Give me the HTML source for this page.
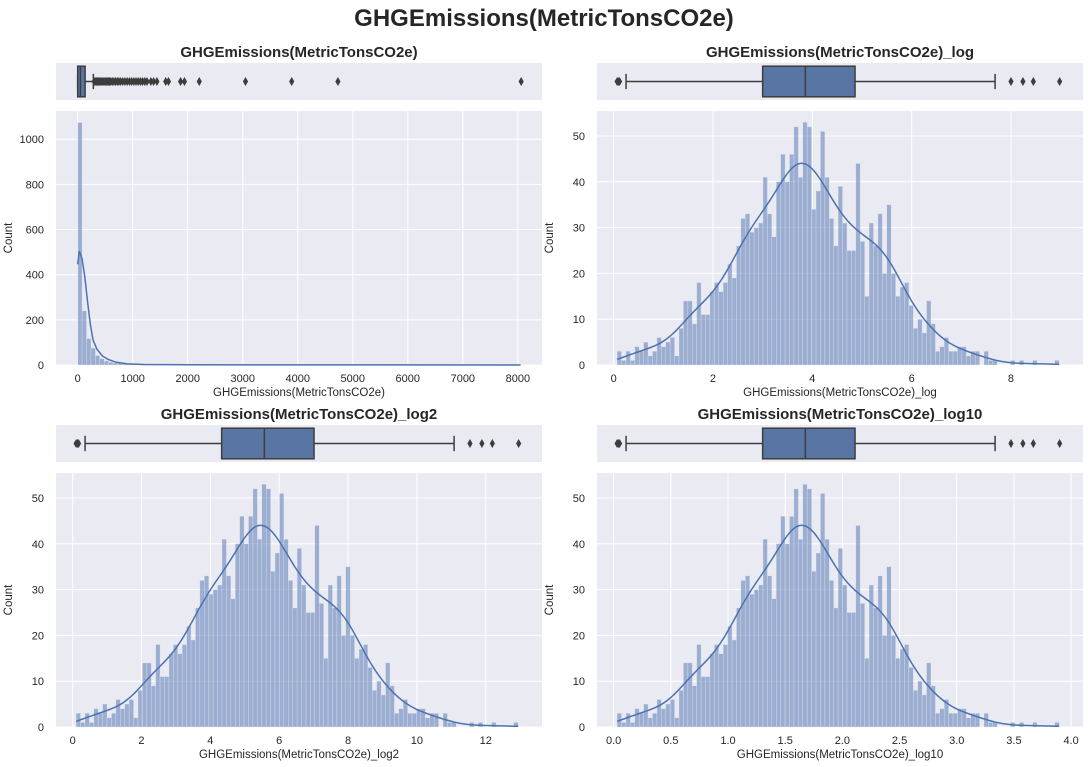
<!DOCTYPE html>
<html><head><meta charset="utf-8">
<style>
html,body{margin:0;padding:0;background:#fff;}
svg{display:block;font-family:"Liberation Sans",Arial,sans-serif;}
</style></head>
<body>
<svg id="fig" width="1088" height="767" viewBox="0 0 1088 767" xmlns="http://www.w3.org/2000/svg">
<text x="544" y="26" text-anchor="middle" font-size="24" font-weight="bold" fill="#262626">GHGEmissions(MetricTonsCO2e)</text>
</svg>
<script>
// ---- Data ----
// Raw histogram (100 bins from 0 to 8050)
const rawStart = 0;
const rawEnd = 8050;
const rawCounts = [1074,240,117,75,42,28,18,12,9,7,5,4,3,3,2,2,2,2,1,1,1,0,0,0,1,1,0,1,0,0,0,0,0,0,0,0,0,1,0,0,0,0,0,0,0,0,0,1,0,0,0,0,0,0,0,0,0,0,1,0,0,0,0,0,0,0,0,0,0,0,0,0,0,0,0,0,0,0,0,0,0,0,0,0,0,0,0,0,0,0,0,0,0,0,0,0,0,0,0,1];
const rawKdeX = [0,30,80,130,180,230,280,350,450,550,700,900,1200,2000,4000,8050];
const rawKdeY = [446,505,470,390,280,180,110,70,40,25,12,5,2,1,0.5,0.2];
const rawBox = {wlo:0, q1:0, med:50, q3:135, whi:285};
const rawOutliers = [300,320,340,360,380,400,420,440,460,480,500,520,540,560,580,600,630,660,690,720,750,780,820,860,900,940,980,1020,1060,1100,1140,1180,1220,1260,1330,1380,1440,1600,1650,1870,1940,2210,3050,3890,4730,8060];
// Log histogram (100 bins, natural log units)
const logStart = 0.07;
const logEnd = 8.97;
const logCounts = [3,1,3,1,4,3,5,2,3,6,4,5,6,2,8,14,14,9,18,11,11,16,18,16,18,22,19,26,32,33,29,30,31,41,33,28,40,46,40,46,52,41,53,52,34,38,51,41,32,26,39,31,25,25,44,27,15,31,26,33,20,35,20,15,17,18,13,8,10,7,14,9,3,4,6,3,3,4,4,2,3,3,0,3,1,1,0,0,0,1,0,1,0,0,1,0,0,0,0,1];
const logBox = {wlo:0.25, q1:3.0, med:3.86, q3:4.86, whi:7.68};
const logOutliers = [0.07,0.1,0.12,8.0,8.24,8.45,8.98];
// Panel scale factors (log, log2, log10)
const panelNames = ["GHGEmissions(MetricTonsCO2e)","GHGEmissions(MetricTonsCO2e)_log","GHGEmissions(MetricTonsCO2e)_log2","GHGEmissions(MetricTonsCO2e)_log10"];
const logFactors = [1, 1/Math.LN2, 1/Math.LN10];
const rawXTicks = [0,1000,2000,3000,4000,5000,6000,7000,8000];
const rawYTicks = [0,200,400,600,800,1000];
const logXTicks = [0,2,4,6,8];
const log2XTicks = [0,2,4,6,8,10,12];
const log10XTicks = [0.0,0.5,1.0,1.5,2.0,2.5,3.0,3.5,4.0];
const logYTicks = [0,10,20,30,40,50];

// ---- Drawing ----
const NS="http://www.w3.org/2000/svg";
const svg=document.getElementById('fig');
function mk(tag,attrs,parent){const e=document.createElementNS(NS,tag);for(const k in attrs)e.setAttribute(k,attrs[k]);(parent||svg).appendChild(e);return e;}

function panel(idx,opt){
  const g=mk('g',{});
  
  
  const X0=opt.x, W=486;
  const sx=v=>X0+(v-opt.xdom[0])/(opt.xdom[1]-opt.xdom[0])*W;
  const hy=opt.hy, hh=254;
  const sy=v=>hy+hh-(v/opt.ymax)*hh;
  // title
  const t=mk('text',{x:X0+W/2,y:opt.by-6,'text-anchor':'middle','font-size':15,'font-weight':'bold',fill:'#262626'},g);
  t.textContent=panelNames[idx];
  
  
  // box axes
  const bb=mk('rect',{x:X0,y:opt.by,width:W,height:37,fill:'#eaeaf2'},g);
  
  
  const cy=opt.by+18.5, bh=30.6;
  const bx=opt.box, f=opt.f;
  const wl=mk('line',{x1:sx(bx.wlo*f),x2:sx(bx.whi*f),y1:cy,y2:cy,stroke:'#3d3d3d','stroke-width':1.5},g);
  
  
  [bx.wlo,bx.whi].forEach(v=>{const c=mk('line',{x1:sx(v*f),x2:sx(v*f),y1:cy-bh/4,y2:cy+bh/4,stroke:'#3d3d3d','stroke-width':1.5},g);
    
    });
  const br=mk('rect',{x:sx(bx.q1*f),y:cy-bh/2,width:Math.max(1,sx(bx.q3*f)-sx(bx.q1*f)),height:bh,fill:'#5975a4',stroke:'#3d3d3d','stroke-width':1.5},g);
  
  
  const md=mk('line',{x1:sx(bx.med*f),x2:sx(bx.med*f),y1:cy-bh/2,y2:cy+bh/2,stroke:'#3d3d3d','stroke-width':1.5},g);
  
  
  opt.out.forEach(v=>{const px=sx(v*f);
    const p=mk('path',{d:`M${px},${cy-4.5}L${px+2.6},${cy}L${px},${cy+4.5}L${px-2.6},${cy}Z`,fill:'#3d3d3d'},g);
    
    });
  // hist axes
  const ha=mk('rect',{x:X0,y:hy,width:W,height:hh,fill:'#eaeaf2'},g);
  
  
  opt.xt.forEach(v=>{const px=sx(v);
    const l=mk('line',{x1:px,x2:px,y1:hy,y2:hy+hh,stroke:'#fff','stroke-width':1},g);
    
    
    const tx=mk('text',{x:px,y:hy+hh+17,'text-anchor':'middle','font-size':11,fill:'#262626'},g);
    tx.textContent=opt.xfmt(v);
    
    });
  opt.yt.forEach(v=>{const py=sy(v);
    const l=mk('line',{x1:X0,x2:X0+W,y1:py,y2:py,stroke:'#fff','stroke-width':1},g);
    
    
    const tx=mk('text',{x:X0-12,y:py+4,'text-anchor':'end','font-size':11,fill:'#262626'},g);
    tx.textContent=String(v);
    
    });
  // bars
  const n=opt.counts.length, bw=(opt.end-opt.start)/n;
  opt.counts.forEach((c,i)=>{ if(c<=0)return;
    const x1=sx(opt.start+i*bw), x2=sx(opt.start+(i+1)*bw);
    const r=mk('rect',{x:x1,y:sy(c),width:x2-x1,height:sy(0)-sy(c),fill:'#4c72b0','fill-opacity':0.5,stroke:'#eaeaf2','stroke-opacity':0.6,'stroke-width':0.5},g);
    
    });
  // kde
  const d=opt.kx.map((v,i)=>(i?'L':'M')+sx(v).toFixed(2)+','+sy(opt.ky[i]).toFixed(2)).join('');
  const kl=mk('path',{d:d,fill:'none',stroke:'#4c72b0','stroke-width':1.5},g);
  
  
  // labels
  const xl=mk('text',{x:X0+W/2,y:hy+hh+31,'text-anchor':'middle','font-size':11.5,fill:'#262626'},g);
  xl.textContent=panelNames[idx];
  
  
  const lx=X0-44, ly=hy+hh/2;
  const yl=mk('text',{x:lx,y:ly,'text-anchor':'middle','font-size':11.5,fill:'#262626',transform:`rotate(-90 ${lx} ${ly})`},g);
  yl.textContent='Count';
  
  
}

// KDE for log data computed from histogram
function logKde(f){
  const n=logCounts.length, bw=(logEnd-logStart)/n;
  let N=0,m=0; logCounts.forEach((c,i)=>{N+=c;m+=c*(logStart+(i+.5)*bw);}); m/=N;
  let v=0; logCounts.forEach((c,i)=>{const x=logStart+(i+.5)*bw;v+=c*(x-m)*(x-m);}); v/=N;
  const h=Math.sqrt(v)*Math.pow(N,-0.2);
  const xs=[],ys=[];
  for(let k=0;k<=200;k++){const x=logStart+(logEnd-logStart)*k/200;let s=0;
    logCounts.forEach((c,i)=>{const xc=logStart+(i+.5)*bw;const z=(x-xc)/h;s+=c*Math.exp(-.5*z*z);});
    const dens=s/(N*h*Math.sqrt(2*Math.PI));
    xs.push(x*f); ys.push(dens*N*bw);}
  return [xs,ys];
}

panel(0,{x:56,by:63,hy:111,xdom:[-394,8439],ymax:1125,box:rawBox,f:1,out:rawOutliers,
  counts:rawCounts,start:rawStart,end:rawEnd,kx:rawKdeX,ky:rawKdeY,xt:rawXTicks,yt:rawYTicks,xfmt:v=>String(v)});
const L=[-0.335,9.45];
[[1,597,63,111,logXTicks,v=>String(v)],[2,56,425,473,log2XTicks,v=>String(v)],[3,597,425,473,log10XTicks,v=>v.toFixed(1)]].forEach(p=>{
  const f=logFactors[p[0]-1];
  const k=logKde(f);
  panel(p[0],{x:p[1],by:p[2],hy:p[3],xdom:[L[0]*f,L[1]*f],ymax:55.46,box:logBox,f:f,out:logOutliers,
    counts:logCounts,start:logStart*f,end:logEnd*f,kx:k[0],ky:k[1],xt:p[4],yt:logYTicks,xfmt:p[5]});
});
</script>
</body></html>
